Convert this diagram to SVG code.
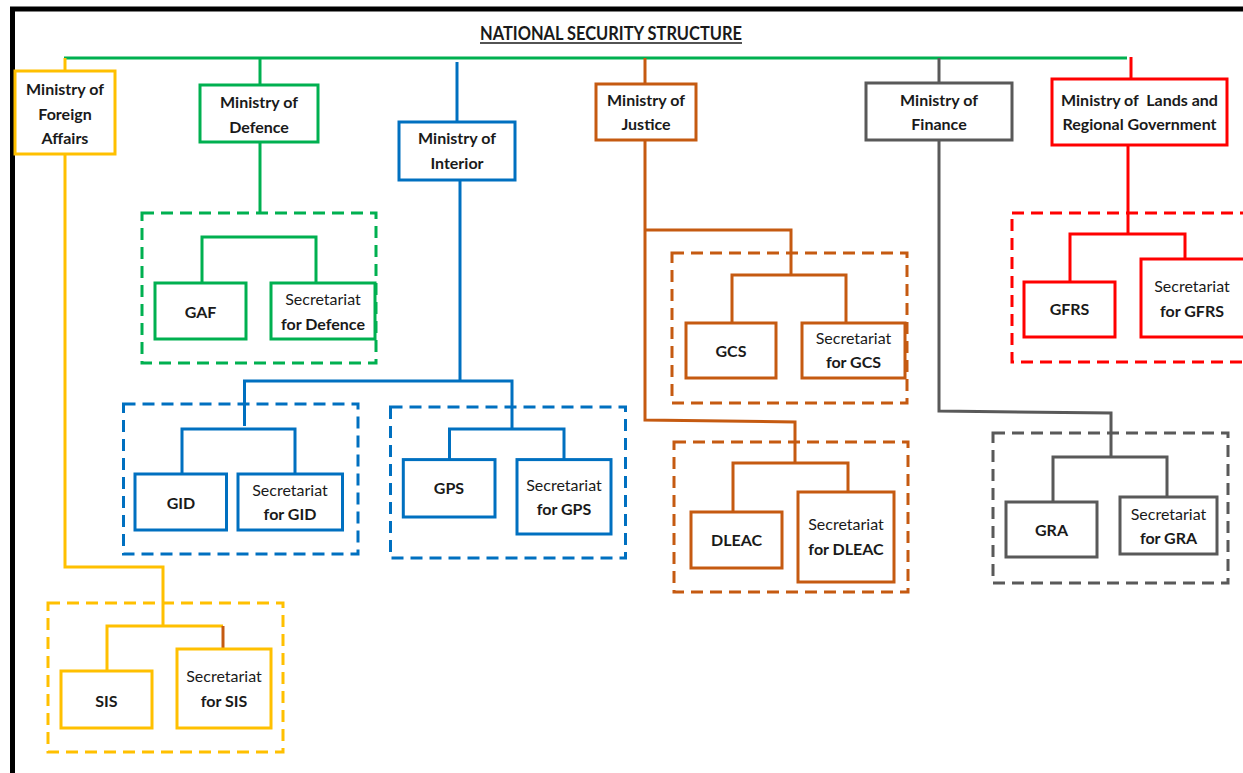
<svg xmlns="http://www.w3.org/2000/svg" width="1243" height="773" viewBox="0 0 1243 773">
<style>
text{font-family:Lato,"Liberation Sans",Arial,sans-serif;font-size:16px;fill:#1a1a1a;text-anchor:middle}
.b{font-weight:bold}
.t{font-size:18px}
.box{fill:#fff;stroke-width:3}
.ln{fill:none;stroke-width:3;stroke-linejoin:miter}
.dash{fill:none;stroke-width:3;stroke-dasharray:12 7}
.g{stroke:#00B050}.bl{stroke:#0070C0}.o{stroke:#C55A11}.gr{stroke:#595959}.r{stroke:#FF0000}.y{stroke:#FFC000}
</style>
<rect x="0" y="0" width="1243" height="773" fill="#fff"/>
<path d="M12.5 773 V9 H1243" fill="none" stroke="#000" stroke-width="5"/>
<text x="611" y="40" class="b t" textLength="262" lengthAdjust="spacingAndGlyphs">NATIONAL SECURITY STRUCTURE</text>
<line x1="480" y1="43" x2="742" y2="43" stroke="#1a1a1a" stroke-width="1.3"/>

<g id="clusters">
<rect class="dash g" x="142" y="213" width="234" height="150"/>
<rect class="dash bl" x="123.5" y="404" width="234.5" height="150"/>
<rect class="dash bl" x="390.5" y="407" width="235" height="151"/>
<rect class="dash o" x="672" y="253" width="235" height="150"/>
<rect class="dash o" x="674" y="442" width="234" height="150"/>
<rect class="dash r" x="1012" y="213" width="240" height="149"/>
<rect class="dash gr" x="993" y="433" width="235" height="150"/>
<rect class="dash y" x="48" y="603" width="235" height="149"/>
</g>

<g id="connectors">
<line class="ln g" x1="64" y1="58" x2="1127" y2="58"/>
<line class="ln y" x1="65" y1="58" x2="65" y2="71"/>
<line class="ln g" x1="260" y1="58" x2="260" y2="85"/>
<line class="ln bl" x1="457" y1="62" x2="457" y2="122"/>
<line class="ln o" x1="645" y1="58" x2="645" y2="84"/>
<line class="ln gr" x1="939" y1="58" x2="939" y2="83"/>
<line class="ln r" x1="1131" y1="57" x2="1131" y2="79"/>
<line class="ln g" x1="260" y1="142" x2="260" y2="213"/>
<path class="ln g" d="M202 283 V237 H316 V283"/>
<path class="ln bl" d="M460 180 V381"/>
<path class="ln bl" d="M244.5 426 V381 H512 V430"/>
<path class="ln bl" d="M182 474 V429 H295 V474"/>
<path class="ln bl" d="M449.5 459.6 V429 H564 V459.6"/>
<path class="ln o" d="M645 140 V420 L795 422 V463"/>
<path class="ln o" d="M645 230 H791 V275"/>
<path class="ln o" d="M732 323 V275 H846 V323"/>
<path class="ln o" d="M733 512 V463 H848 V492"/>
<path class="ln gr" d="M939 140 V411 L1111 413 V457"/>
<path class="ln gr" d="M1053 502 V457 H1167 V497"/>
<path class="ln r" d="M1128 145 V234"/>
<path class="ln r" d="M1070 282 V234 H1185 V259"/>
<path class="ln y" d="M65 154 V567 H163 V626"/>
<path class="ln y" d="M107 671 V626 H223"/>
<line class="ln o" x1="223" y1="626" x2="223" y2="649"/>
</g>

<g id="n-foreign"><rect class="box y" x="15" y="71" width="100" height="83"/>
<text class="b" x="65" y="95">Ministry of</text><text class="b" x="65" y="119.5">Foreign</text><text class="b" x="65" y="144">Affairs</text></g>
<g id="n-defence"><rect class="box g" x="200" y="85" width="118" height="57"/>
<text class="b" x="259" y="108">Ministry of</text><text class="b" x="259" y="132.5">Defence</text></g>
<g id="n-interior"><rect class="box bl" x="399" y="122" width="116" height="58"/>
<text class="b" x="457" y="144">Ministry of</text><text class="b" x="457" y="169">Interior</text></g>
<g id="n-justice"><rect class="box o" x="596" y="84" width="100" height="56"/>
<text class="b" x="646" y="106">Ministry of</text><text class="b" x="646" y="130">Justice</text></g>
<g id="n-finance"><rect class="box gr" x="866" y="83" width="146" height="57"/>
<text class="b" x="939" y="106">Ministry of</text><text class="b" x="939" y="130">Finance</text></g>
<g id="n-lands"><rect class="box r" x="1052" y="79" width="175" height="66"/>
<text class="b" x="1139.5" y="106" xml:space="preserve">Ministry of  Lands and</text><text class="b" x="1139.5" y="130">Regional Government</text></g>

<g id="n-gaf"><rect class="box g" x="155" y="283" width="91" height="56"/><text class="b" x="200.5" y="318">GAF</text></g>
<g id="n-secdef"><rect class="box g" x="271" y="283" width="104" height="56"/><text x="323" y="305">Secretariat</text><text class="b" x="323" y="330">for Defence</text></g>

<g id="n-gid"><rect class="box bl" x="135" y="474" width="91.5" height="56"/><text class="b" x="181" y="509">GID</text></g>
<g id="n-secgid"><rect class="box bl" x="238" y="474" width="104.5" height="56"/><text x="290" y="495.5">Secretariat</text><text class="b" x="290" y="520">for GID</text></g>
<g id="n-gps"><rect class="box bl" x="403.3" y="459.6" width="91.7" height="57.4"/><text class="b" x="449" y="494.4">GPS</text></g>
<g id="n-secgps"><rect class="box bl" x="517" y="459.6" width="94" height="74.4"/><text x="564" y="491">Secretariat</text><text class="b" x="564" y="515">for GPS</text></g>

<g id="n-gcs"><rect class="box o" x="686" y="323" width="90" height="55"/><text class="b" x="731" y="356.7">GCS</text></g>
<g id="n-secgcs"><rect class="box o" x="802" y="323" width="103" height="55"/><text x="853.5" y="344.3">Secretariat</text><text class="b" x="853.5" y="368.3">for GCS</text></g>
<g id="n-dleac"><rect class="box o" x="691" y="512" width="91" height="56"/><text class="b" x="736.5" y="545.7">DLEAC</text></g>
<g id="n-secdleac"><rect class="box o" x="798" y="492" width="96" height="90"/><text x="846" y="530">Secretariat</text><text class="b" x="846" y="555">for DLEAC</text></g>

<g id="n-gfrs"><rect class="box r" x="1024" y="282" width="91" height="55"/><text class="b" x="1069.5" y="315">GFRS</text></g>
<g id="n-secgfrs"><rect class="box r" x="1141" y="259" width="110" height="78"/><text x="1192" y="291.7">Secretariat</text><text class="b" x="1192" y="316.7">for GFRS</text></g>

<g id="n-gra"><rect class="box gr" x="1006" y="502" width="91" height="55"/><text class="b" x="1051.5" y="535.7">GRA</text></g>
<g id="n-secgra"><rect class="box gr" x="1120" y="497" width="97" height="57"/><text x="1168.5" y="520">Secretariat</text><text class="b" x="1168.5" y="544">for GRA</text></g>

<g id="n-sis"><rect class="box y" x="61" y="671" width="91" height="57"/><text class="b" x="106.5" y="706.7">SIS</text></g>
<g id="n-secsis"><rect class="box y" x="177" y="649" width="94" height="79"/><text x="224" y="681.7">Secretariat</text><text class="b" x="224" y="706.7">for SIS</text></g>
</svg>
